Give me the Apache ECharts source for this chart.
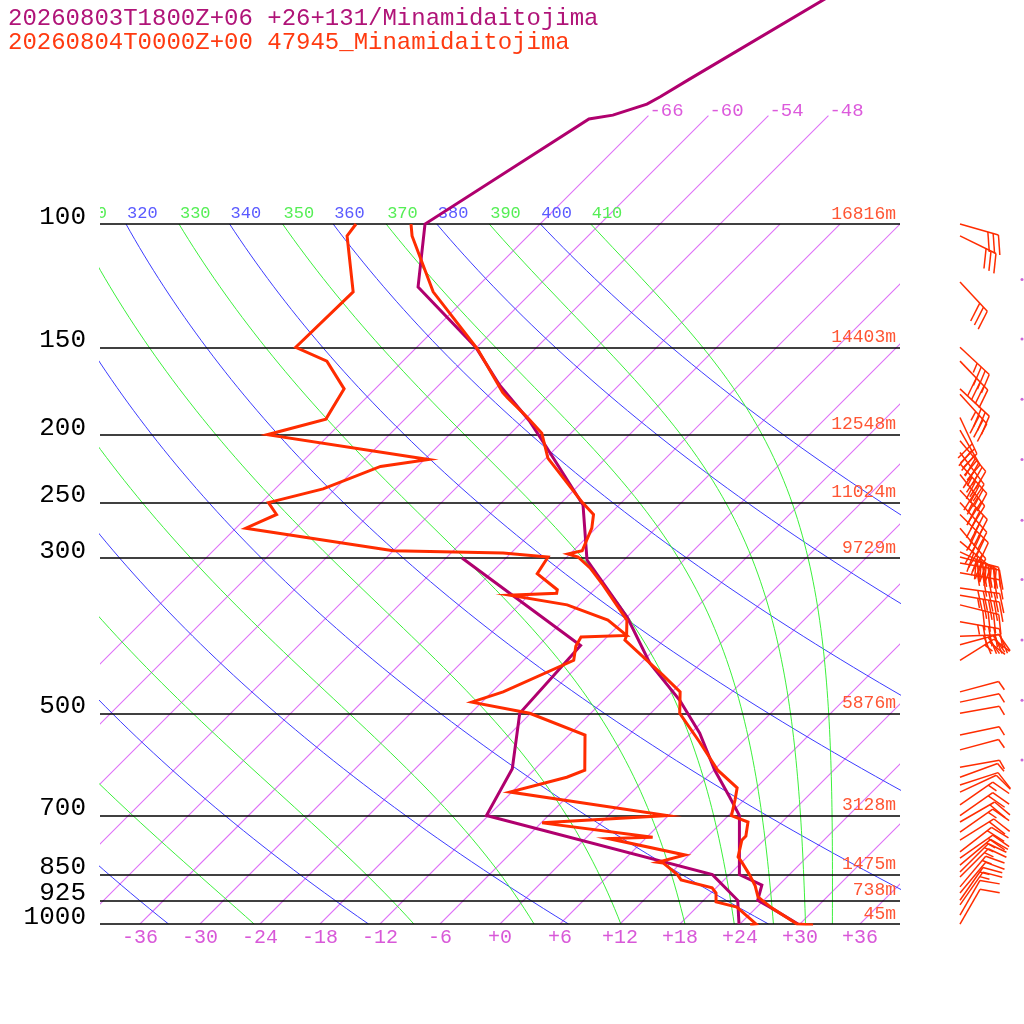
<!DOCTYPE html>
<html>
<head>
<meta charset="utf-8">
<script src="https://cdn.jsdelivr.net/npm/echarts@6/dist/echarts.min.js"></script>
<style>
html, body { margin: 0; background: #fff; }
#sounding { width: 1024px; height: 1024px; }
</style>
</head>
<body>
<div id="sounding"></div>
<script>
// pressure lines (hPa) and heights of the observed sounding (m)
const levels = [100, 150, 200, 250, 300, 500, 700, 850, 925, 1000];
const heights = [16816, 14403, 12548, 11024, 9729, 5876, 3128, 1475, 738, 45];
const tempTicks = [-36, -30, -24, -18, -12, -6, 0, 6, 12, 18, 24, 30, 36];

// background: isotherms (C), dry adiabats (K), moist adiabats (theta-e, K)
const isotherms = [-66, -60, -54, -48, -42, -36, -30, -24, -18, -12, -6, 0, 6, 12, 18, 24, 30, 36];
const isoLabelled = [-66, -60, -54, -48];
const dryThetas = [240, 260, 280, 300, 320, 340, 360, 380, 400];
const moistThetas = [250, 270, 290, 310, 330, 350, 370, 390, 410];

// model 20260803T1800Z+06 +26+131
const modelP = [1000, 946, 925, 880, 850, 700, 659, 603, 534, 479, 424, 365, 325, 302, 252, 206, 191, 170, 150, 123, 100, 70.8, 69.9, 67.4, 65.8, 62.3, 45];
const modelT = [29.8, 25.3, 23.4, 22.3, 19.0, 13.1, 10.3, 6.1, 0.9, -4.4, -11.1, -17.9, -23.9, -27.7, -33.6, -43.6, -47.4, -53.9, -60.1, -71.9, -77.5, -71.6, -69.6, -67.3, -66.7, -65.6, -58.8];
const modelDewP = [1000, 925, 850, 700, 600, 500, 400, 300];
const modelDew = [23.9, 21.4, 16.3, -12.2, -14.3, -19.1, -19.8, -40.4];
const modelDotP = [120, 146, 178, 217, 265, 322, 393, 479, 583];

// observed 20260804T0000Z 47945
const obsP = [1003, 1000, 949, 915, 882, 850, 816, 802, 759, 749, 715, 700, 665, 639, 603, 550, 500, 466, 441, 393, 387, 368, 326, 310, 299, 296, 293, 272, 260, 250, 216, 199, 189, 177, 174, 151, 125, 104, 100];
const obsT = [31.4, 29.7, 25.6, 23.1, 21.7, 20.0, 18.0, 17.1, 15.8, 15.8, 14.6, 12.3, 11.1, 10.1, 6.4, 1.8, -3.1, -5.2, -8.6, -15.9, -16.2, -17.7, -23.9, -26.6, -28.9, -30.2, -29.1, -30.4, -31.6, -33.9, -41.8, -44.9, -47.9, -51.9, -52.9, -59.7, -69.9, -77.6, -78.9];
const obsDewP = [1003, 1000, 946, 930, 903, 888, 865, 850, 818, 816, 797, 755, 752, 717, 700, 648, 617, 603, 537, 500, 482, 466, 420, 401, 389, 387, 368, 350, 339, 337, 333, 316, 299, 295, 293, 272, 260, 250, 239, 222, 217, 200, 190, 172, 157, 150, 125, 104, 100];
const obsDew = [25.1, 25.6, 22.0, 19.4, 18.5, 17.6, 13.7, 12.8, 10.2, 9.6, 11.6, 2.3, 6.6, -5.9, 5.9, -12.2, -8.0, -6.9, -10.4, -18.1, -25.0, -22.9, -19.0, -20.2, -20.6, -16.2, -19.6, -25.2, -31.9, -27.4, -27.7, -31.3, -31.9, -36.8, -48.0, -65.0, -63.3, -65.3, -61.2, -57.7, -53.6, -72.2, -67.9, -69.1, -73.6, -78.1, -77.9, -84.1, -84.4];

// observed winds: pressure, direction (deg), speed (kt)
const windP = [100, 104, 121, 150, 157, 172, 175, 189, 197, 204, 212, 220, 228, 240, 250, 260, 272, 284, 294, 299, 305, 315, 331, 339, 350, 370, 388, 399, 420, 466, 482, 500, 537, 564, 597, 617, 633, 648, 676, 700, 715, 739, 759, 789, 805, 824, 843, 857, 885, 903, 925, 939, 971, 1000];
const windDir = [106, 116, 137, 133, 136, 133, 138, 155, 150, 140, 143, 138, 142, 137, 138, 135, 140, 130, 115, 105, 100, 100, 98, 100, 104, 100, 88, 75, 58, 75, 78, 80, 78, 75, 80, 70, 72, 65, 55, 55, 60, 55, 58, 52, 55, 50, 45, 45, 40, 40, 35, 35, 30, 30];
const windSpd = [30, 30, 30, 35, 40, 30, 35, 30, 40, 40, 40, 45, 40, 45, 45, 40, 45, 50, 50, 50, 45, 45, 50, 45, 40, 45, 40, 30, 25, 5, 5, 5, 5, 5, 5, 5, 10, 10, 15, 20, 20, 15, 20, 20, 20, 15, 15, 15, 15, 10, 15, 15, 10, 10];

const PURPLE = '#b0006e';
const RED = '#ff2c00';
const ISO = '#d64cf5';
const FONT = '"Liberation Mono", monospace';

// skew-T: the x value is the temperature shifted with log-pressure
const SKEW = 70 / Math.LN10;
function sx(t, p) { return t + SKEW * Math.log(1000 / p); }

// pressures used to trace the curved background lines
const curveP = [];
for (let i = 0; i <= 90; i++) curveP.push(1000 * Math.pow(10, -i / 90));

function dryT(th, p) { return th * Math.pow(p / 1000, 0.2857) - 273.15; }

// Bolton theta-e of saturated air, solved for T on each level
function thetaE(tk, p) {
    const tc = tk - 273.15;
    const es = 6.112 * Math.exp(17.67 * tc / (tc + 243.5));
    if (es > 0.5 * p) return 1e9;
    const r = 622 * es / (p - es);
    return tk * Math.pow(1000 / p, 0.2854 * (1 - 0.00028 * r)) *
        Math.exp((3.376 / tk - 0.00254) * r * (1 + 0.00081 * r));
}
function moistT(the, p) {
    let lo = 120, hi = 340;
    for (let k = 0; k < 60; k++) {
        const mid = (lo + hi) / 2;
        if (thetaE(mid, p) > the) hi = mid; else lo = mid;
    }
    return (lo + hi) / 2 - 273.15;
}

function bgLine(data, color) {
    return {
        type: 'line', data: data, showSymbol: false, symbol: 'none', silent: true, z: 1,
        color: color, lineStyle: { color: color, width: 1 }, animation: false
    };
}

const series = [];

// isotherms: straight segments from 1000 hPa up to 100 (or 70) hPa
series.push({
    type: 'custom', clip: true, silent: true, z: 1, animation: false,
    data: isotherms.map(t => [t, isoLabelled.indexOf(t) >= 0 ? 70 : 100]),
    renderItem: function (params, api) {
        const t = api.value(0), top = api.value(1);
        const a = api.coord([sx(t, 1000), 1000]);
        const b = api.coord([sx(t, top), top]);
        return {
            type: 'line', shape: { x1: a[0], y1: a[1], x2: b[0], y2: b[1] },
            style: { stroke: ISO, lineWidth: 1.1, opacity: 0.8 }
        };
    }
});
dryThetas.forEach(function (th) {
    series.push(bgLine(curveP.map(p => [sx(dryT(th, p), p), p]), '#3c3cff'));
});
moistThetas.forEach(function (th) {
    series.push(bgLine(curveP.map(p => [sx(moistT(th, p), p), p]), '#3cf03c'));
});

// adiabat labels on the 100 hPa line (clipped at the frame)
function labelSeries(values, tFn, color) {
    return {
        type: 'custom', clip: true, silent: true, z: 3, animation: false,
        data: values.map(v => [sx(tFn(v, 100), 100), 100]),
        renderItem: function (params, api) {
            const pt = api.coord([api.value(0), api.value(1)]);
            return {
                type: 'text', x: pt[0] + 1, y: pt[1] - 11,
                style: {
                    text: String(values[params.dataIndex]), fill: color, font: '17px ' + FONT,
                    align: 'left', verticalAlign: 'middle', textAlign: 'left', textVerticalAlign: 'middle'
                }
            };
        }
    };
}
series.push(labelSeries(dryThetas, dryT, '#5a5aff'));
series.push(labelSeries(moistThetas, moistT, '#55ee55'));

// isotherm labels above 100 hPa
series.push({
    type: 'custom', silent: true, z: 3, animation: false,
    data: isoLabelled.map(t => [sx(t, 70), 70]),
    renderItem: function (params, api) {
        const pt = api.coord([api.value(0), api.value(1)]);
        return {
            type: 'text', x: pt[0] + 1, y: pt[1] - 5,
            style: {
                text: String(isoLabelled[params.dataIndex]), fill: '#dc5adc', font: '19px ' + FONT,
                align: 'left', verticalAlign: 'middle', textAlign: 'left', textVerticalAlign: 'middle'
            }
        };
    }
});

// pressure lines with pressure labels on the left and heights on the right
series.push({
    type: 'line', data: [], silent: true, z: 2,
    markLine: {
        silent: true, symbol: ['none', 'none'], animation: false,
        lineStyle: { color: '#000', width: 1.5, type: 'solid' },
        label: { position: 'start', distance: 14, offset: [0, -7], color: '#000', fontSize: 26, fontFamily: FONT, formatter: '{c}' },
        data: levels.map(p => ({ yAxis: p }))
    }
});
series.push({
    type: 'line', data: [], silent: true, z: 2,
    markLine: {
        silent: true, symbol: ['none', 'none'], animation: false,
        lineStyle: { color: 'rgba(0,0,0,0)', width: 1, type: 'solid' },
        label: { position: 'insideEndTop', distance: [4, 1], color: '#ff5533', fontSize: 18, fontFamily: FONT },
        data: levels.map((p, i) => ({ yAxis: p, label: { formatter: heights[i] + 'm' } }))
    }
});

function profile(ps, ts, color) {
    return {
        type: 'line', data: ps.map((p, i) => [sx(ts[i], p), p]), showSymbol: false, symbol: 'none',
        silent: true, z: 5, animation: false, color: color,
        lineStyle: { color: color, width: 3, join: 'miter' }
    };
}
series.push(profile(modelP, modelT, PURPLE));
series.push(profile(modelDewP, modelDew, PURPLE));
series.push(profile(obsDewP, obsDew, RED));
series.push(profile(obsP, obsT, RED));

// wind barbs to the right of the diagram
const BARB_X = 46;
function seg(a, b) {
    return { type: 'line', shape: { x1: a[0], y1: a[1], x2: b[0], y2: b[1] }, style: { stroke: RED, lineWidth: 1.5 } };
}
series.push({
    type: 'custom', clip: false, silent: true, z: 5, animation: false,
    data: windP.map(p => [BARB_X, p]),
    renderItem: function (params, api) {
        const i = params.dataIndex;
        const base = api.coord([api.value(0), api.value(1)]);
        const a = windDir[i] * Math.PI / 180;
        const ux = Math.sin(a), uy = -Math.cos(a);
        const tip = [base[0] + ux * 40, base[1] + uy * 40];
        const f = 70 * Math.PI / 180;
        const fx = ux * Math.cos(f) - uy * Math.sin(f), fy = ux * Math.sin(f) + uy * Math.cos(f);
        const kids = [seg(base, tip)];
        let s = windSpd[i], k = 0;
        while (s >= 10) {
            const o = [tip[0] - ux * k * 5.5, tip[1] - uy * k * 5.5];
            kids.push(seg(o, [o[0] + fx * 20, o[1] + fy * 20]));
            s -= 10; k++;
        }
        if (s >= 5) {
            const o = [tip[0] - ux * k * 5.5, tip[1] - uy * k * 5.5];
            kids.push(seg(o, [o[0] + fx * 10, o[1] + fy * 10]));
        }
        return { type: 'group', children: kids };
    }
});

// tips of the model barbs at the page edge
series.push({
    type: 'scatter', clip: false, silent: true, z: 5, animation: false,
    symbolSize: 3, itemStyle: { color: '#c040d0' },
    data: modelDotP.map(p => [52.2, p])
});

const chart = echarts.init(document.getElementById('sounding'));
chart.setOption({
    animation: false,
    backgroundColor: '#fff',
    title: [
        { text: '20260803T1800Z+06 +26+131/Minamidaitojima', left: 8, top: 7, padding: 0,
          textStyle: { color: '#b01478', fontSize: 24, fontWeight: 'normal', fontFamily: FONT } },
        { text: '20260804T0000Z+00 47945_Minamidaitojima', left: 8, top: 31, padding: 0,
          textStyle: { color: '#ff3a10', fontSize: 24, fontWeight: 'normal', fontFamily: FONT } }
    ],
    grid: { left: 100, top: 0, width: 800, height: 924 },
    xAxis: {
        type: 'value', min: -40, max: 40,
        axisLine: { show: false }, axisTick: { show: false }, splitLine: { show: false },
        axisLabel: {
            customValues: tempTicks, margin: 4, color: '#d858d8', fontSize: 20, fontFamily: FONT,
            formatter: v => (v >= 0 ? '+' : '') + v
        }
    },
    yAxis: { type: 'log', inverse: true, min: 47.86, max: 1000, show: false },
    series: series
});
</script>
</body>
</html>
